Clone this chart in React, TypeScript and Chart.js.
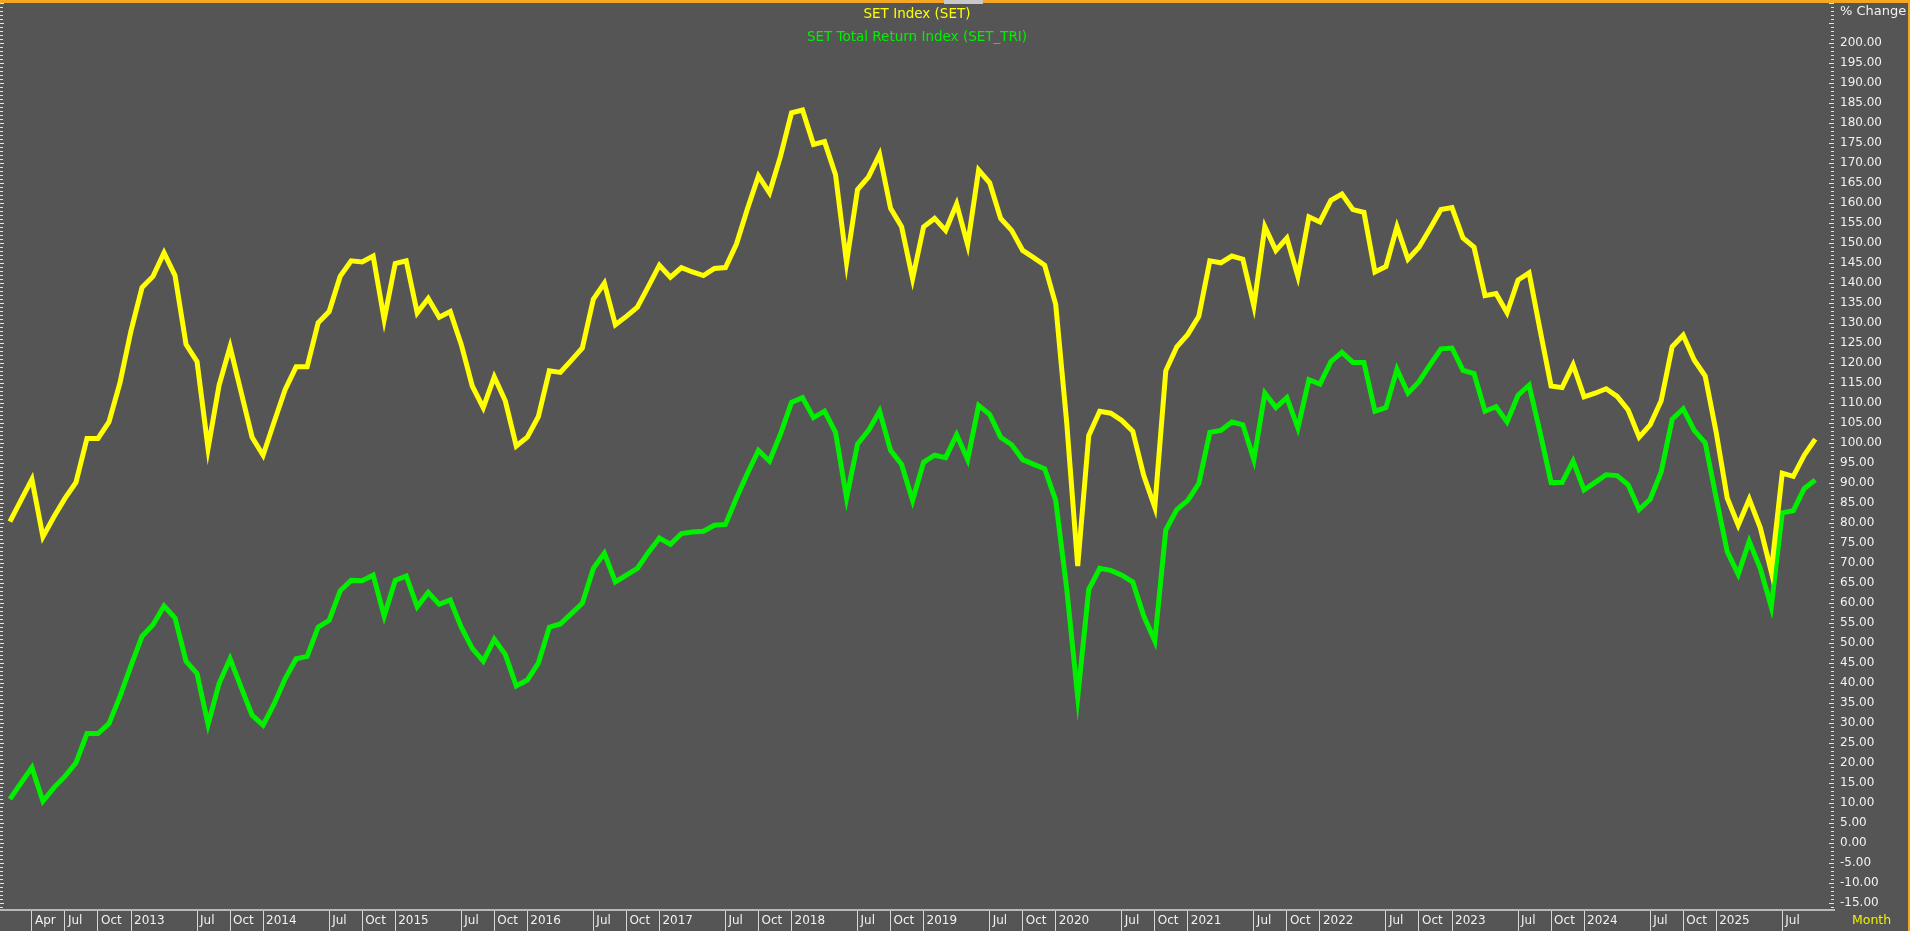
import React, { useEffect, useRef } from "react";
import { Chart, registerables } from "chart.js";

Chart.register(...registerables);

// Month-end values, Feb 2012 .. Oct 2025 (month index 1 = Feb 2012)
const setIndex = [
  80.3, 85.6, 90.9, 76.5, 81.5, 86.1, 90.1, 101.1, 101.1, 105.2,
  115.0, 128.0, 138.8, 141.6, 147.5, 141.8, 124.6, 120.3, 98.6, 114.4,
  124.0, 112.7, 101.4, 96.9, 105.2, 113.3, 119.0, 119.0, 130.0, 132.8,
  141.6, 145.5, 145.2, 146.7, 130.8, 144.8, 145.5, 132.5, 136.1, 131.4,
  132.8, 124.6, 114.2, 108.8, 116.5, 110.5, 99.2, 101.4, 106.5, 118.0,
  117.6, 120.6, 123.7, 135.9, 139.9, 129.5, 131.6, 133.9, 139.1, 144.4,
  141.4, 143.8, 142.7, 141.8, 143.6, 143.8, 149.7, 158.5, 166.7, 162.5,
  171.6, 182.5, 183.2, 174.6, 175.3, 167.0, 145.0, 163.3, 166.5, 172.1,
  158.6, 154.0, 141.0, 154.0, 156.1, 153.1, 159.7, 149.5, 168.2, 165.0,
  156.1, 153.1, 148.1, 146.3, 144.4, 134.6, 105.0, 69.2, 101.8, 107.9,
  107.4, 105.6, 102.9, 91.8, 83.9, 118.0, 124.0, 127.1, 131.6, 145.5,
  145.0, 146.7, 145.9, 134.2, 154.0, 148.1, 151.2, 141.6, 156.5, 155.2,
  160.6, 162.2, 158.3, 157.6, 142.7, 144.1, 154.0, 145.9, 148.9, 153.5,
  158.3, 158.8, 151.2, 148.9, 136.8, 137.3, 132.5, 140.7, 142.5, 128.2,
  114.2, 113.8, 119.5, 111.5, 112.4, 113.5, 111.6, 108.2, 101.4, 104.5,
  110.5, 124.0, 126.9, 120.7, 116.7, 102.6, 86.2, 79.4, 85.9, 78.8,
  67.8, 92.4, 91.6, 96.9, 100.9,
];

const setTri = [
  10.9, 14.9, 18.8, 10.4, 13.8, 16.6, 20.0, 27.3, 27.3, 29.8,
  36.6, 44.3, 51.6, 54.5, 59.2, 56.2, 45.4, 42.3, 29.6, 39.8,
  46.0, 38.9, 31.9, 29.4, 34.7, 41.0, 46.0, 46.6, 53.9, 55.6,
  63.0, 65.6, 65.5, 66.9, 56.7, 65.6, 66.7, 59.0, 62.6, 59.6,
  60.7, 53.9, 48.6, 45.4, 50.9, 47.1, 39.2, 40.7, 44.9, 53.9,
  54.7, 57.3, 59.9, 68.6, 72.4, 65.2, 66.9, 68.6, 72.6, 76.2,
  74.6, 77.3, 77.7, 77.9, 79.4, 79.6, 86.2, 92.4, 98.1, 95.4,
  102.2, 110.1, 111.3, 106.3, 107.9, 102.6, 86.2, 99.7, 103.1, 107.9,
  98.1, 94.6, 85.6, 95.2, 96.9, 96.3, 102.0, 95.8, 109.3, 107.1,
  101.4, 99.5, 95.8, 94.6, 93.5, 85.6, 63.5, 36.4, 63.3, 68.6,
  68.1, 66.9, 65.2, 56.7, 50.5, 78.2, 83.3, 85.6, 89.8, 102.6,
  103.1, 105.2, 104.5, 95.8, 112.4, 108.8, 111.3, 103.7, 115.8, 114.7,
  120.3, 122.6, 120.1, 120.1, 107.9, 108.8, 118.4, 112.4, 115.3, 119.5,
  123.5, 123.7, 118.1, 117.3, 107.9, 109.0, 105.2, 111.9, 114.4, 102.6,
  90.1, 90.1, 95.4, 88.2, 90.1, 92.0, 91.8, 89.5, 83.3, 85.9,
  92.7, 105.9, 108.5, 103.1, 100.0, 86.2, 72.8, 67.1, 75.4, 68.6,
  59.0, 82.5, 83.0, 88.6, 90.7,
];

// months since Jan 2012 for x-axis tick marks and their labels
const xTickMonths = [
  3, 6, 9, 12, 18, 21, 24, 30, 33, 36, 42, 45, 48, 54, 57, 60, 66, 69, 72,
  78, 81, 84, 90, 93, 96, 102, 105, 108, 114, 117, 120, 126, 129, 132,
  138, 141, 144, 150, 153, 156, 162,
];
const xTickLabels = [
  "Apr", "Jul", "Oct", "2013", "Jul", "Oct", "2014", "Jul", "Oct", "2015",
  "Jul", "Oct", "2016", "Jul", "Oct", "2017", "Jul", "Oct", "2018",
  "Jul", "Oct", "2019", "Jul", "Oct", "2020", "Jul", "Oct", "2021",
  "Jul", "Oct", "2022", "Jul", "Oct", "2023", "Jul", "Oct", "2024",
  "Jul", "Oct", "2025", "Jul",
];

const yTickValues = [
  -15, -10, -5, 0, 5, 10, 15, 20, 25, 30, 35, 40, 45, 50, 55, 60, 65, 70,
  75, 80, 85, 90, 95, 100, 105, 110, 115, 120, 125, 130, 135, 140, 145,
  150, 155, 160, 165, 170, 175, 180, 185, 190, 195, 200,
];

const seriesNames = ["SET Index (SET)", "SET Total Return Index (SET_TRI)"];
const seriesColors = ["#ffff00", "#00f000"];
const firstMonth = 1;

const FONT = "DejaVu Sans";
const BG = "#555555";

export default function App() {
  const ref = useRef<HTMLCanvasElement>(null);

  useEffect(() => {
    const canvas = ref.current;
    if (!canvas) return;
    const months = setIndex.map((_, i) => firstMonth + i);

    const deco = {
      id: "deco",
      beforeDraw(chart: any) {
        const ctx = chart.ctx;
        ctx.save();
        ctx.fillStyle = BG;
        ctx.fillRect(0, 0, chart.width, chart.height);
        ctx.restore();
      },
      afterDraw(chart: any) {
        const ctx = chart.ctx;
        const ca = chart.chartArea;
        const ys = chart.scales.y;
        ctx.save();
        // minor/major ticks on both vertical edges
        ctx.fillStyle = "#e4e4e4";
        for (let v = Math.ceil(ys.min); v <= Math.floor(ys.max); v++) {
          const py = Math.round(ys.getPixelForValue(v));
          const major = v % 5 === 0;
          const len = major ? 5 : 3;
          ctx.fillRect(ca.right - len, py, len, 1);
          ctx.fillRect(ca.left, py, major ? 4 : 3, 1);
        }
        // titles
        ctx.font = `13.5px "${FONT}"`;
        ctx.textAlign = "center";
        ctx.textBaseline = "middle";
        const cx = (ca.left + ca.right) / 2;
        ctx.fillStyle = seriesColors[0];
        ctx.fillText(seriesNames[0], cx, 14);
        ctx.fillStyle = seriesColors[1];
        ctx.fillText(seriesNames[1], cx, 37);
        ctx.textAlign = "left";
        ctx.font = `13px "${FONT}"`;
        ctx.fillStyle = "#f2f2f2";
        ctx.fillText("% Change", ca.right + 6, 12);
        ctx.font = `12.5px "${FONT}"`;
        ctx.fillStyle = "#f0f000";
        ctx.fillText("Month", ca.right + 18, ca.bottom + 11);
        // frame highlight
        ctx.fillStyle = "#f5a623";
        ctx.fillRect(0, 0, chart.width, 3);
        ctx.fillRect(chart.width - 2, 0, 2, chart.height);
        // small tab
        ctx.fillStyle = "#c8c8c8";
        ctx.fillRect(cx + 27, 0, 39, 4);
        ctx.restore();
      },
    };

    const chart = new Chart(canvas, {
      type: "line",
      data: {
        datasets: [
          {
            label: seriesNames[0],
            data: months.map((m, i) => ({ x: m, y: setIndex[i] })),
            borderColor: seriesColors[0],
            backgroundColor: seriesColors[0],
            borderWidth: 5,
            pointRadius: 0,
            tension: 0,
          },
          {
            label: seriesNames[1],
            data: months.map((m, i) => ({ x: m, y: setTri[i] })),
            borderColor: seriesColors[1],
            backgroundColor: seriesColors[1],
            borderWidth: 5,
            pointRadius: 0,
            tension: 0,
          },
        ],
      },
      options: {
        responsive: false,
        animation: false,
        devicePixelRatio: 1,
        layout: { padding: 0 },
        plugins: {
          legend: { display: false },
          tooltip: { enabled: false },
          title: { display: false },
        },
        scales: {
          x: {
            type: "linear",
            position: "bottom",
            min: 0.1,
            max: 166.7,
            afterBuildTicks(axis: any) {
              axis.ticks = xTickMonths.map((v) => ({ value: v }));
            },
            afterFit(axis: any) {
              axis.height = 21;
              axis.paddingLeft = 0;
              axis.paddingRight = 0;
            },
            grid: {
              display: true,
              drawOnChartArea: false,
              drawTicks: true,
              tickLength: 21,
              color: "#d8d8d8",
              lineWidth: 1,
            },
            border: { display: true, color: "#b8b8b8", width: 2 },
            ticks: {
              autoSkip: false,
              maxRotation: 0,
              minRotation: 0,
              align: "start",
              labelOffset: 3,
              padding: -17,
              color: "#f2f2f2",
              font: { family: FONT, size: 12 },
              callback: (value: any) => {
                const k = xTickMonths.indexOf(Number(value));
                return k >= 0 ? xTickLabels[k] : "";
              },
            },
          },
          y: {
            type: "linear",
            position: "right",
            min: -16.8,
            max: 210.7,
            afterBuildTicks(axis: any) {
              axis.ticks = yTickValues.map((v) => ({ value: v }));
            },
            afterFit(axis: any) {
              axis.width = 76;
              axis.paddingTop = 0;
              axis.paddingBottom = 0;
            },
            grid: { display: false, drawTicks: false, drawOnChartArea: false },
            border: { display: false },
            ticks: {
              autoSkip: false,
              padding: 6,
              color: "#f2f2f2",
              font: { family: FONT, size: 12 },
              callback: (value: any) => Number(value).toFixed(2),
            },
          },
        },
      },
      plugins: [deco],
    } as any);

    return () => chart.destroy();
  }, []);

  return (
    <div
      style={{
        position: "fixed",
        left: 0,
        top: 0,
        width: 1910,
        height: 931,
        background: BG,
      }}
    >
      <canvas
        ref={ref}
        width={1910}
        height={931}
        style={{ display: "block", width: 1910, height: 931 }}
      />
    </div>
  );
}
